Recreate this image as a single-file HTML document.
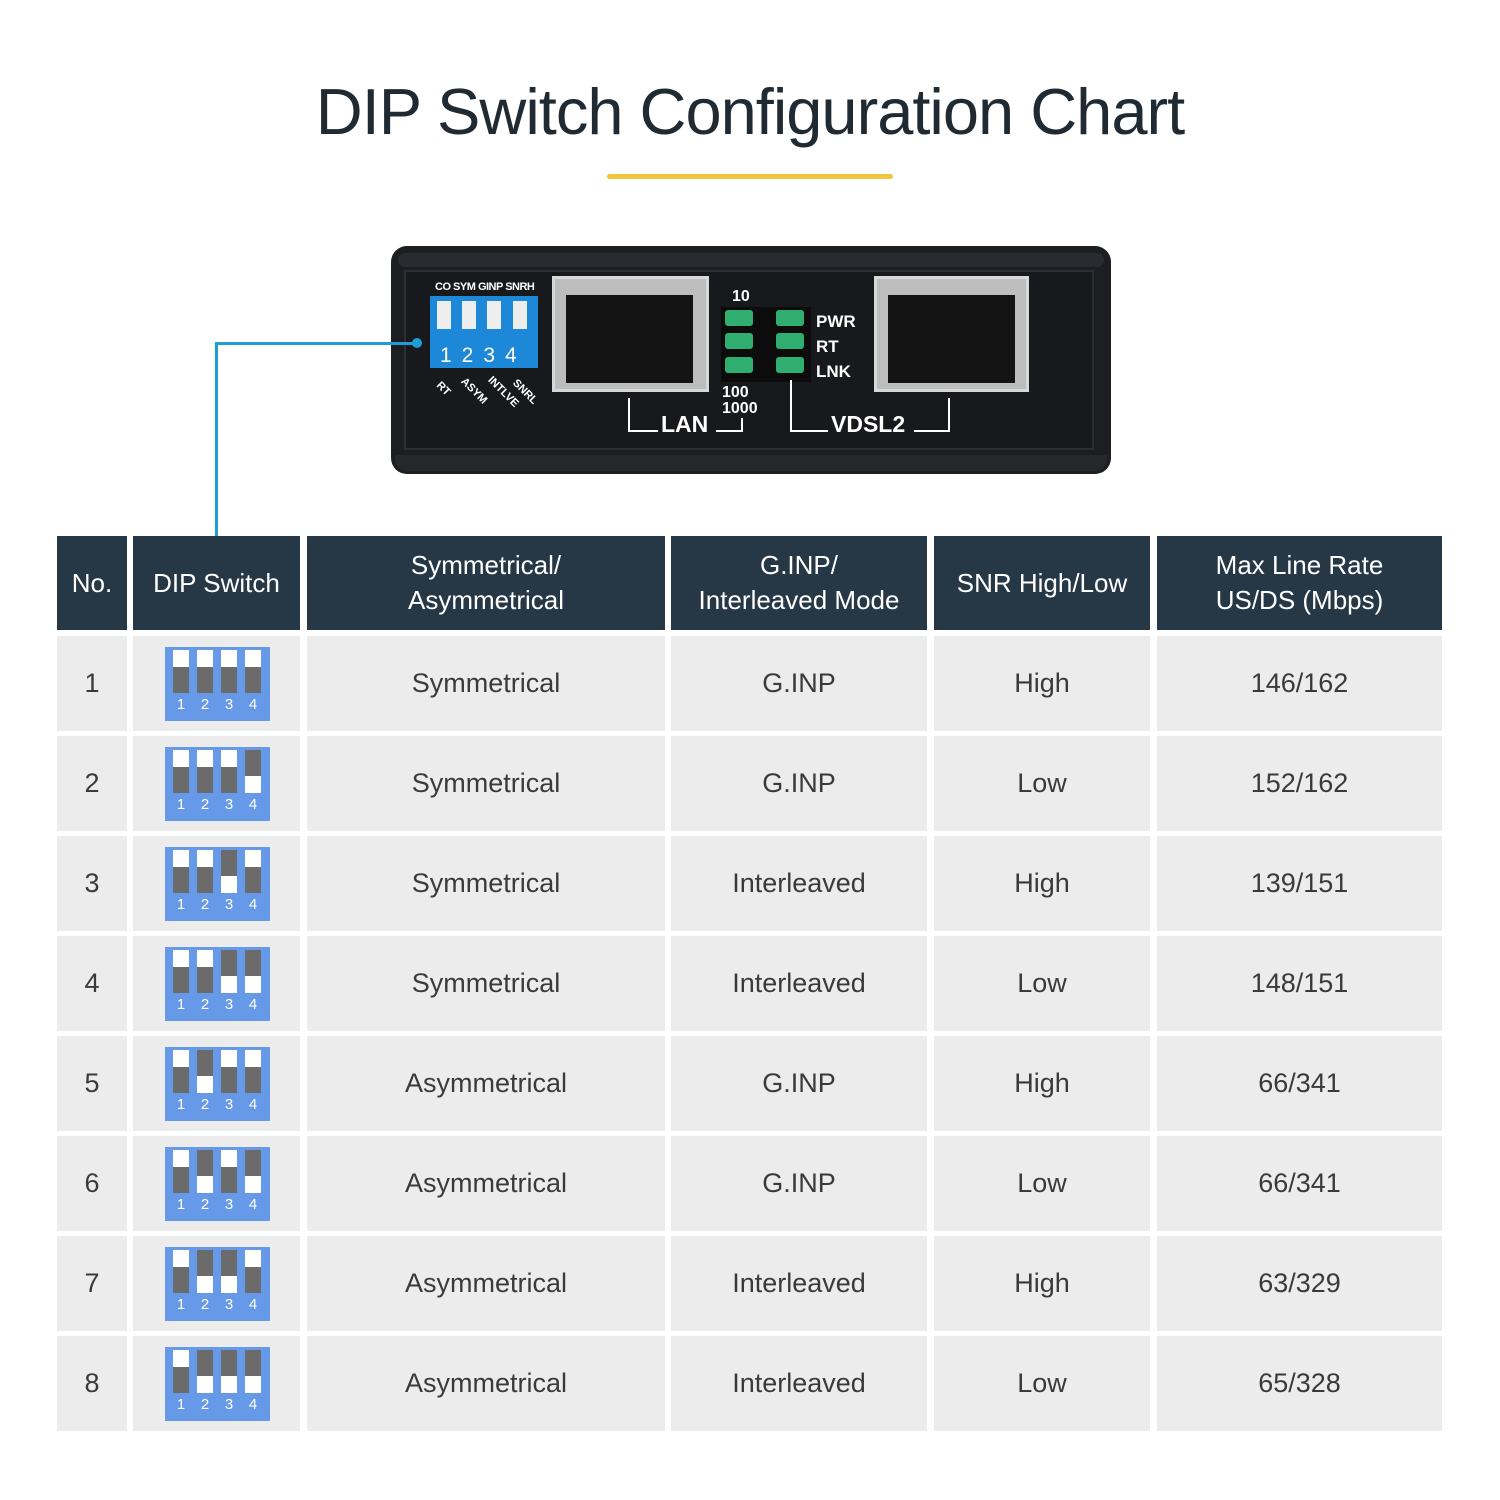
<!DOCTYPE html>
<html><head><meta charset="utf-8"><style>
*{margin:0;padding:0;box-sizing:border-box}
body{width:1500px;height:1500px;background:#fff;position:relative;overflow:hidden;font-family:"Liberation Sans",sans-serif}
.a{position:absolute}
.h{position:absolute;top:536px;height:94px;background:#263746;color:#fff;font-size:26px;display:flex;align-items:center;justify-content:center;text-align:center;line-height:35px}
.c{position:absolute;height:95px;background:#ececec;color:#3a3a3a;font-size:27px;display:flex;align-items:center;justify-content:center}
.dip{position:absolute;left:165px;width:105px;height:74px;background:#6699e8}
.sw{position:absolute;top:3px;width:16px;height:43px;background:#6b6b6b}
.sw.u{border-top:17px solid #fff}
.sw.d{border-bottom:17px solid #fff}
.n{position:absolute;top:49px;width:16px;text-align:center;color:#fff;font-size:15px}
.wt{color:#fff;font-weight:bold;position:absolute;font-family:"Liberation Sans",sans-serif}
</style></head><body>
<div class="a" style="left:0;top:74px;width:1500px;text-align:center;font-size:65px;color:#1f2a33;font-weight:300;letter-spacing:-1px">DIP Switch Configuration Chart</div>
<div class="a" style="left:607px;top:174px;width:286px;height:5px;background:#f2c53d;border-radius:3px"></div>

<!-- device -->
<div class="a" style="left:391px;top:246px;width:720px;height:228px;background:#1d1e22;border-radius:16px"></div>
<div class="a" style="left:398px;top:253px;width:706px;height:14px;background:#2a2b30;border-radius:10px"></div>
<div class="a" style="left:404px;top:270px;width:690px;height:180px;background:#18191c;border:2px solid #2d2e33"></div>
<div class="a" style="left:395px;top:455px;width:712px;height:16px;background:#26272b;border-radius:0 0 12px 12px"></div>
<!-- dip on device -->
<div class="a" style="left:430px;top:296px;width:108px;height:72px;background:#1e88d8"></div>
<div class="a" style="left:437px;top:301px;width:14px;height:28px;background:#eee"></div>
<div class="a" style="left:462px;top:301px;width:14px;height:28px;background:#eee"></div>
<div class="a" style="left:487px;top:301px;width:14px;height:28px;background:#eee"></div>
<div class="a" style="left:513px;top:301px;width:14px;height:28px;background:#eee"></div>
<div class="wt" style="left:435px;top:281px;font-size:11px;letter-spacing:-0.5px">CO SYM GINP SNRH</div>
<div class="a" style="left:440px;top:344px;color:#fff;font-size:21px;letter-spacing:10px">1234</div>
<div class="wt" style="left:436px;top:383px;font-size:11px;transform:rotate(45deg)">RT</div>
<div class="wt" style="left:458px;top:385px;font-size:11px;transform:rotate(45deg)">ASYM</div>
<div class="wt" style="left:484px;top:386px;font-size:11px;transform:rotate(45deg)">INTLVE</div>
<div class="wt" style="left:510px;top:386px;font-size:11px;transform:rotate(45deg)">SNRL</div>
<!-- ports -->
<div class="a" style="left:552px;top:276px;width:157px;height:116px;background:#bdbdbd;border:3px solid #d8d8d8"></div>
<div class="a" style="left:566px;top:295px;width:127px;height:88px;background:#141414"></div>
<div class="a" style="left:874px;top:276px;width:155px;height:116px;background:#bdbdbd;border:3px solid #d8d8d8"></div>
<div class="a" style="left:888px;top:295px;width:127px;height:88px;background:#141414"></div>
<!-- LEDs -->
<div class="a" style="left:721px;top:307px;width:90px;height:75px;background:#0c0c0c"></div>
<div class="a" style="left:725px;top:310px;width:28px;height:16px;background:#2fae70;border-radius:3px"></div>
<div class="a" style="left:725px;top:333px;width:28px;height:16px;background:#2fae70;border-radius:3px"></div>
<div class="a" style="left:725px;top:357px;width:28px;height:16px;background:#2fae70;border-radius:3px"></div>
<div class="a" style="left:776px;top:310px;width:28px;height:16px;background:#2fae70;border-radius:3px"></div>
<div class="a" style="left:776px;top:333px;width:28px;height:16px;background:#2fae70;border-radius:3px"></div>
<div class="a" style="left:776px;top:357px;width:28px;height:16px;background:#2fae70;border-radius:3px"></div>
<div class="wt" style="left:732px;top:288px;font-size:16px">10</div>
<div class="wt" style="left:816px;top:312px;font-size:17px">PWR</div>
<div class="wt" style="left:816px;top:337px;font-size:17px">RT</div>
<div class="wt" style="left:816px;top:362px;font-size:17px">LNK</div>
<div class="wt" style="left:722px;top:385px;font-size:16px;line-height:16px">100<br>1000</div>
<div class="a" style="left:628px;top:398px;width:2px;height:34px;background:#fff"></div>
<div class="a" style="left:628px;top:430px;width:30px;height:2px;background:#fff"></div>
<div class="wt" style="left:661px;top:411px;font-size:23px">LAN</div>
<div class="a" style="left:716px;top:430px;width:26px;height:2px;background:#fff"></div>
<div class="a" style="left:741px;top:418px;width:2px;height:14px;background:#fff"></div>
<div class="a" style="left:790px;top:380px;width:2px;height:52px;background:#fff"></div>
<div class="a" style="left:790px;top:430px;width:38px;height:2px;background:#fff"></div>
<div class="wt" style="left:831px;top:411px;font-size:23px">VDSL2</div>
<div class="a" style="left:914px;top:430px;width:36px;height:2px;background:#fff"></div>
<div class="a" style="left:948px;top:398px;width:2px;height:34px;background:#fff"></div>
<!-- connector -->
<div class="a" style="left:215px;top:342px;width:3px;height:194px;background:#1e9ed4"></div>
<div class="a" style="left:215px;top:342px;width:202px;height:3px;background:#1e9ed4"></div>
<div class="a" style="left:412px;top:338px;width:10px;height:10px;border-radius:50%;background:#1e9ed4"></div>

<!-- header -->
<div class="h" style="left:57px;width:70px">No.</div>
<div class="h" style="left:133px;width:167px">DIP Switch</div>
<div class="h" style="left:307px;width:358px">Symmetrical/<br>Asymmetrical</div>
<div class="h" style="left:671px;width:256px">G.INP/<br>Interleaved Mode</div>
<div class="h" style="left:934px;width:216px">SNR High/Low</div>
<div class="h" style="left:1157px;width:285px">Max Line Rate<br>US/DS (Mbps)</div>

<!-- rows -->
<div class="c" style="top:636px;left:57px;width:70px">1</div><div class="c" style="top:636px;left:133px;width:167px"></div><div class="c" style="top:636px;left:307px;width:358px">Symmetrical</div><div class="c" style="top:636px;left:671px;width:256px">G.INP</div><div class="c" style="top:636px;left:934px;width:216px">High</div><div class="c" style="top:636px;left:1157px;width:285px">146/162</div>
<div class="c" style="top:736px;left:57px;width:70px">2</div><div class="c" style="top:736px;left:133px;width:167px"></div><div class="c" style="top:736px;left:307px;width:358px">Symmetrical</div><div class="c" style="top:736px;left:671px;width:256px">G.INP</div><div class="c" style="top:736px;left:934px;width:216px">Low</div><div class="c" style="top:736px;left:1157px;width:285px">152/162</div>
<div class="c" style="top:836px;left:57px;width:70px">3</div><div class="c" style="top:836px;left:133px;width:167px"></div><div class="c" style="top:836px;left:307px;width:358px">Symmetrical</div><div class="c" style="top:836px;left:671px;width:256px">Interleaved</div><div class="c" style="top:836px;left:934px;width:216px">High</div><div class="c" style="top:836px;left:1157px;width:285px">139/151</div>
<div class="c" style="top:936px;left:57px;width:70px">4</div><div class="c" style="top:936px;left:133px;width:167px"></div><div class="c" style="top:936px;left:307px;width:358px">Symmetrical</div><div class="c" style="top:936px;left:671px;width:256px">Interleaved</div><div class="c" style="top:936px;left:934px;width:216px">Low</div><div class="c" style="top:936px;left:1157px;width:285px">148/151</div>
<div class="c" style="top:1036px;left:57px;width:70px">5</div><div class="c" style="top:1036px;left:133px;width:167px"></div><div class="c" style="top:1036px;left:307px;width:358px">Asymmetrical</div><div class="c" style="top:1036px;left:671px;width:256px">G.INP</div><div class="c" style="top:1036px;left:934px;width:216px">High</div><div class="c" style="top:1036px;left:1157px;width:285px">66/341</div>
<div class="c" style="top:1136px;left:57px;width:70px">6</div><div class="c" style="top:1136px;left:133px;width:167px"></div><div class="c" style="top:1136px;left:307px;width:358px">Asymmetrical</div><div class="c" style="top:1136px;left:671px;width:256px">G.INP</div><div class="c" style="top:1136px;left:934px;width:216px">Low</div><div class="c" style="top:1136px;left:1157px;width:285px">66/341</div>
<div class="c" style="top:1236px;left:57px;width:70px">7</div><div class="c" style="top:1236px;left:133px;width:167px"></div><div class="c" style="top:1236px;left:307px;width:358px">Asymmetrical</div><div class="c" style="top:1236px;left:671px;width:256px">Interleaved</div><div class="c" style="top:1236px;left:934px;width:216px">High</div><div class="c" style="top:1236px;left:1157px;width:285px">63/329</div>
<div class="c" style="top:1336px;left:57px;width:70px">8</div><div class="c" style="top:1336px;left:133px;width:167px"></div><div class="c" style="top:1336px;left:307px;width:358px">Asymmetrical</div><div class="c" style="top:1336px;left:671px;width:256px">Interleaved</div><div class="c" style="top:1336px;left:934px;width:216px">Low</div><div class="c" style="top:1336px;left:1157px;width:285px">65/328</div>

<!-- dip icons -->
<div class="dip" style="top:647px"><div class="sw u" style="left:8px"></div><div class="sw u" style="left:32px"></div><div class="sw u" style="left:56px"></div><div class="sw u" style="left:80px"></div><div class="n" style="left:8px">1</div><div class="n" style="left:32px">2</div><div class="n" style="left:56px">3</div><div class="n" style="left:80px">4</div></div>
<div class="dip" style="top:747px"><div class="sw u" style="left:8px"></div><div class="sw u" style="left:32px"></div><div class="sw u" style="left:56px"></div><div class="sw d" style="left:80px"></div><div class="n" style="left:8px">1</div><div class="n" style="left:32px">2</div><div class="n" style="left:56px">3</div><div class="n" style="left:80px">4</div></div>
<div class="dip" style="top:847px"><div class="sw u" style="left:8px"></div><div class="sw u" style="left:32px"></div><div class="sw d" style="left:56px"></div><div class="sw u" style="left:80px"></div><div class="n" style="left:8px">1</div><div class="n" style="left:32px">2</div><div class="n" style="left:56px">3</div><div class="n" style="left:80px">4</div></div>
<div class="dip" style="top:947px"><div class="sw u" style="left:8px"></div><div class="sw u" style="left:32px"></div><div class="sw d" style="left:56px"></div><div class="sw d" style="left:80px"></div><div class="n" style="left:8px">1</div><div class="n" style="left:32px">2</div><div class="n" style="left:56px">3</div><div class="n" style="left:80px">4</div></div>
<div class="dip" style="top:1047px"><div class="sw u" style="left:8px"></div><div class="sw d" style="left:32px"></div><div class="sw u" style="left:56px"></div><div class="sw u" style="left:80px"></div><div class="n" style="left:8px">1</div><div class="n" style="left:32px">2</div><div class="n" style="left:56px">3</div><div class="n" style="left:80px">4</div></div>
<div class="dip" style="top:1147px"><div class="sw u" style="left:8px"></div><div class="sw d" style="left:32px"></div><div class="sw u" style="left:56px"></div><div class="sw d" style="left:80px"></div><div class="n" style="left:8px">1</div><div class="n" style="left:32px">2</div><div class="n" style="left:56px">3</div><div class="n" style="left:80px">4</div></div>
<div class="dip" style="top:1247px"><div class="sw u" style="left:8px"></div><div class="sw d" style="left:32px"></div><div class="sw d" style="left:56px"></div><div class="sw u" style="left:80px"></div><div class="n" style="left:8px">1</div><div class="n" style="left:32px">2</div><div class="n" style="left:56px">3</div><div class="n" style="left:80px">4</div></div>
<div class="dip" style="top:1347px"><div class="sw u" style="left:8px"></div><div class="sw d" style="left:32px"></div><div class="sw d" style="left:56px"></div><div class="sw d" style="left:80px"></div><div class="n" style="left:8px">1</div><div class="n" style="left:32px">2</div><div class="n" style="left:56px">3</div><div class="n" style="left:80px">4</div></div>
</body></html>
